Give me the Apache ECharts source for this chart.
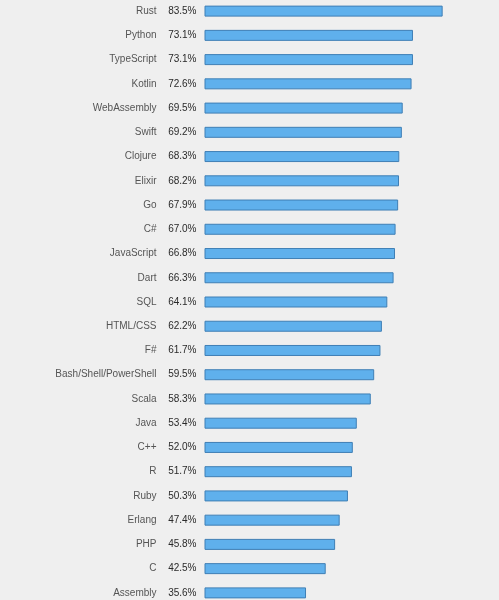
<!DOCTYPE html>
<html>
<head>
<meta charset="utf-8">
<script src="https://cdn.jsdelivr.net/npm/echarts@6/dist/echarts.min.js"></script>
<style>
html,body{margin:0;padding:0;background:#efefef;}
#chart{width:499px;height:600px;}
</style>
</head>
<body>
<div id="chart"></div>
<script>
var languages = ["Rust","Python","TypeScript","Kotlin","WebAssembly","Swift","Clojure","Elixir","Go","C#","JavaScript","Dart","SQL","HTML/CSS","F#","Bash/Shell/PowerShell","Scala","Java","C++","R","Ruby","Erlang","PHP","C","Assembly"];
var lovedPct = [83.5,73.1,73.1,72.6,69.5,69.2,68.3,68.2,67.9,67.0,66.8,66.3,64.1,62.2,61.7,59.5,58.3,53.4,52.0,51.7,50.3,47.4,45.8,42.5,35.6];

var chart = echarts.init(document.getElementById('chart'));
chart.setOption({
  backgroundColor: '#efefef',
  animation: false,
  grid: { left: 204.5, width: 285.2, top: -1.0, height: 606.0, outerBoundsMode: 'none', containLabel: false },
  xAxis: { type: 'value', min: 0, max: 100, show: false },
  yAxis: {
    type: 'category',
    data: languages,
    inverse: true,
    axisLine: { show: false },
    axisTick: { show: false },
    splitLine: { show: false },
    axisLabel: {
      margin: 8,
      fontFamily: 'Liberation Sans, Arial, sans-serif',
      formatter: function (v, i) {
        return '{n|' + v + '}{v|' + lovedPct[i].toFixed(1) + '%}';
      },
      rich: {
        n: { fontSize: 10, color: '#555', fontFamily: 'Liberation Sans, Arial, sans-serif' },
        v: { fontSize: 10, color: '#2a2a2a', width: 40, align: 'right', fontFamily: 'Liberation Sans, Arial, sans-serif' }
      }
    }
  },
  series: [{
    type: 'bar',
    data: lovedPct,
    barWidth: 11,
    itemStyle: { color: '#5fb0ec', borderColor: '#3f7fb5', borderWidth: 1 }
  }]
});
</script>
</body>
</html>
